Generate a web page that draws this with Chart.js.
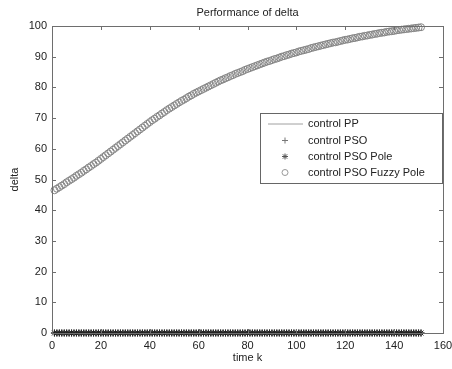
<!DOCTYPE html>
<html>
<head>
<meta charset="utf-8">
<script src="https://cdn.jsdelivr.net/npm/chart.js@4"></script>
<style>
html,body{margin:0;padding:0;background:#fff;}
#wrap{width:452px;height:369px;}
</style>
</head>
<body>
<div id="wrap"><canvas id="c" width="452" height="369"></canvas></div>
<script>
// time index k = 1..151
const kSteps = Array.from({length:151}, (_, i) => i + 1);
const xTicks = [0,20,40,60,80,100,120,140,160];
const yTicks = [0,10,20,30,40,50,60,70,80,90,100];
const seriesNames = ["control PP","control PSO","control PSO Pole","control PSO Fuzzy Pole"];

// values
const ppVals = kSteps.map(() => 0);
const psoVals = kSteps.map(() => 0);
const poleVals = kSteps.map(() => 0);
const fuzzyVals = [
  46.5,47.0,47.5,48.0,48.5,49.1,49.6,50.1,50.6,51.2,51.7,52.2,52.8,53.3,53.9,54.4,55.0,55.5,56.1,56.7,
  57.3,57.9,58.5,59.1,59.7,60.3,60.9,61.5,62.1,62.7,63.3,63.9,64.5,65.1,65.7,66.3,66.9,67.5,68.1,68.7,
  69.3,69.8,70.4,70.9,71.5,72.0,72.6,73.1,73.6,74.1,74.6,75.1,75.6,76.0,76.5,77.0,77.4,77.9,78.3,78.7,
  79.1,79.5,79.9,80.3,80.7,81.1,81.5,81.9,82.3,82.6,83.0,83.3,83.7,84.0,84.4,84.7,85.0,85.3,85.7,86.0,
  86.3,86.6,86.9,87.2,87.5,87.8,88.1,88.4,88.6,88.9,89.2,89.4,89.7,90.0,90.2,90.5,90.7,91.0,91.2,91.4,
  91.7,91.9,92.1,92.3,92.5,92.8,93.0,93.2,93.4,93.6,93.8,94.0,94.2,94.4,94.6,94.7,94.9,95.1,95.3,95.5,
  95.6,95.8,96.0,96.1,96.3,96.5,96.6,96.8,96.9,97.1,97.2,97.4,97.5,97.7,97.8,97.9,98.1,98.2,98.3,98.4,
  98.6,98.7,98.8,98.9,99.0,99.1,99.2,99.3,99.4,99.5,99.6
];

function pts(vals){ return kSteps.map((k,i) => ({x:k, y:vals[i]})); }

const FONT = "'Liberation Sans', Arial, sans-serif";
const TXT = "#222";
const AX = "#6e6e6e";

// box, inward ticks, title, legend
const framePlugin = {
  id: "frame",
  afterDraw(chart){
    const {ctx, chartArea:a, scales} = chart;
    const xs = scales.x, ys = scales.y;
    ctx.save();
    ctx.strokeStyle = AX;
    ctx.lineWidth = 1;
    ctx.strokeRect(Math.round(a.left)+0.5, Math.round(a.top)+0.5, Math.round(a.right-a.left), Math.round(a.bottom-a.top));
    ctx.beginPath();
    xTicks.forEach(v => {
      const px = Math.round(xs.getPixelForValue(v)) + 0.5;
      ctx.moveTo(px, a.bottom); ctx.lineTo(px, a.bottom-4);
      ctx.moveTo(px, a.top); ctx.lineTo(px, a.top+4);
    });
    yTicks.forEach(v => {
      const py = Math.round(ys.getPixelForValue(v)) + 0.5;
      ctx.moveTo(a.left, py); ctx.lineTo(a.left+4, py);
      ctx.moveTo(a.right, py); ctx.lineTo(a.right-4, py);
    });
    ctx.stroke();

    // title
    ctx.fillStyle = TXT;
    ctx.font = "11px " + FONT;
    ctx.textAlign = "center";
    ctx.textBaseline = "middle";
    ctx.fillText("Performance of delta", (a.left+a.right)/2, 13);

    // legend
    const lx = 260, ly = 113, lw = Math.round(a.right) - 261, lh = 70;
    ctx.fillStyle = "#fff";
    ctx.fillRect(lx, ly, lw, lh);
    ctx.strokeStyle = "#666";
    ctx.strokeRect(lx+0.5, ly+0.5, lw, lh);
    const rows = [124, 140.5, 156.5, 172.5];
    ctx.textAlign = "left";
    ctx.fillStyle = TXT;
    seriesNames.forEach((name, i) => {
      const y = rows[i];
      ctx.fillStyle = TXT;
      ctx.fillText(name, 308, y);
      const cx = 285;
      ctx.beginPath();
      if (i === 0){
        ctx.strokeStyle = "#a0a0a0";
        ctx.moveTo(268, y); ctx.lineTo(303, y);
      } else if (i === 1){
        ctx.strokeStyle = "#777";
        ctx.moveTo(cx-3, y); ctx.lineTo(cx+3, y);
        ctx.moveTo(cx, y-3); ctx.lineTo(cx, y+3);
      } else if (i === 2){
        ctx.strokeStyle = "#555";
        ctx.moveTo(cx-3, y); ctx.lineTo(cx+3, y);
        ctx.moveTo(cx, y-3); ctx.lineTo(cx, y+3);
        ctx.moveTo(cx-2.2, y-2.2); ctx.lineTo(cx+2.2, y+2.2);
        ctx.moveTo(cx-2.2, y+2.2); ctx.lineTo(cx+2.2, y-2.2);
      } else {
        ctx.strokeStyle = "#999";
        ctx.arc(cx, y, 3, 0, Math.PI*2);
      }
      ctx.stroke();
    });
    ctx.restore();
  }
};

new Chart(document.getElementById("c"), {
  type: "line",
  data: {
    datasets: [
      {label: seriesNames[3], data: pts(fuzzyVals), showLine: false, pointStyle: "circle", pointRadius: 3.5,
       borderColor: "#858585", backgroundColor: "rgba(255,255,255,0)", pointBorderWidth: 1, clip: false},
      {label: seriesNames[2], data: pts(poleVals), showLine: false, pointStyle: "star", pointRadius: 3.5,
       borderColor: "#222", pointBorderWidth: 1, clip: false},
      {label: seriesNames[1], data: pts(psoVals), showLine: false, pointStyle: "cross", pointRadius: 3.5,
       borderColor: "#444", pointBorderWidth: 1, clip: false},
      {label: seriesNames[0], data: pts(ppVals), pointRadius: 0, borderColor: "#999", borderWidth: 1, clip: false}
    ]
  },
  options: {
    responsive: false,
    animation: false,
    events: [],
    layout: {padding: {top: 26, right: 0, left: 0, bottom: 0}},
    plugins: {legend: {display: false}, title: {display: false}, tooltip: {enabled: false}},
    scales: {
      x: {
        type: "linear", min: 0, max: 160,
        afterFit(s){ s.height = 36; s.paddingRight = 9; s.paddingLeft = 0; },
        afterBuildTicks(s){ s.ticks = xTicks.map(v => ({value: v})); },
        grid: {display: false, drawTicks: false},
        border: {display: false},
        ticks: {color: TXT, font: {family: FONT, size: 11}, padding: 6, maxRotation: 0},
        title: {display: true, text: "time k", color: TXT, font: {family: FONT, size: 11}, padding: {top: 0, bottom: 4}}
      },
      y: {
        min: 0, max: 100,
        afterFit(s){ s.width = 52; s.paddingTop = 0; s.paddingBottom = 0; },
        afterBuildTicks(s){ s.ticks = yTicks.map(v => ({value: v})); },
        grid: {display: false, drawTicks: false},
        border: {display: false},
        ticks: {color: TXT, font: {family: FONT, size: 11}, padding: 5},
        title: {display: true, text: "delta", color: TXT, font: {family: FONT, size: 11}, padding: {top: 8, bottom: 0}}
      }
    }
  },
  plugins: [framePlugin]
});
</script>
</body>
</html>
